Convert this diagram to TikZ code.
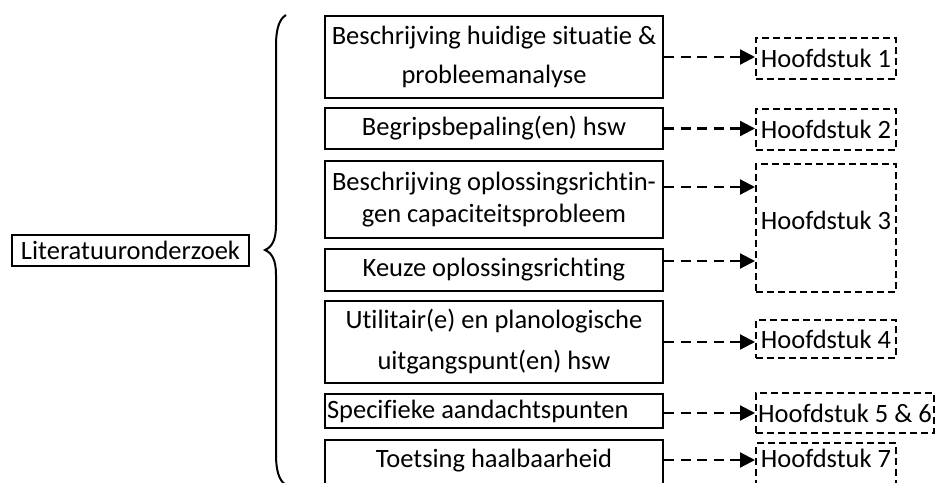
\documentclass[tikz,border=0pt]{standalone}
\usepackage{fontspec}
\setmainfont{Carlito}[Ligatures={NoCommon}]
\usetikzlibrary{arrows.meta,calc}
\newcommand\fs{\fontsize{26.5}{32}\selectfont}
\tikzset{
  solidbox/.style={draw, line width=2pt, minimum width=338pt, inner sep=0pt, align=center, font=\fs},
  hbox/.style={draw, line width=2pt, dash pattern=on 7pt off 4pt, minimum width=140pt, inner sep=0pt, align=center, font=\fs},
  arr/.style={line width=2.2pt, dash pattern=on 10pt off 6.5pt, -{Triangle[length=15pt,width=15pt]}},
  brace/.style={line width=2pt}
}
\begin{document}
\begin{tikzpicture}[x=1pt,y=-1pt]
\useasboundingbox (0,0) rectangle (939,482);
\clip (0,0) rectangle (939,482);
% left box
\node[draw, line width=1.2pt, minimum width=237pt, minimum height=31pt, inner sep=0pt, font=\fs] (lit) at (130.5,250.5) {Literatuuronderzoek};
% brace
\draw[brace] (286,15) .. controls (279,19) and (276,30) .. (276,45) -- (276,225)
  .. controls (276,240) and (272,247) .. (265,250)
  .. controls (272,253) and (276,260) .. (276,275) -- (276,455)
  .. controls (276,470) and (279,481) .. (286,485);
% solid boxes
\node[solidbox, minimum height=82pt] (b1) at (494,57) {Beschrijving huidige situatie \&\\[7pt]probleemanalyse};
\node[solidbox, minimum height=41pt] (b2) at (494,128.5) {Begripsbepaling(en) hsw};
\node[solidbox, minimum height=77pt] (b3) at (494,199.5) {Beschrijving oplossingsrichtin-\\gen capaciteitsprobleem};
\node[solidbox, minimum height=42pt] (b4) at (494,270) {Keuze oplossingsrichting};
\node[solidbox, minimum height=82pt] (b5) at (494,342) {Utilitair(e) en planologische\\[9pt]uitgangspunt(en) hsw};
\node[solidbox, minimum height=34pt, text width=334pt, align=flush left, inner xsep=2pt] (b6) at (494,411) {Specifieke aandachtspunten};
\node[solidbox, anchor=north, text height=27pt, text depth=24pt] (b7) at (494,439) {Toetsing haalbaarheid};
% dashed boxes
\node[hbox, minimum height=41pt] (h1) at (826,58.5) {Hoofdstuk 1};
\node[hbox, minimum height=41pt] (h2) at (826,129.5) {Hoofdstuk 2};
\node[hbox, anchor=north, text height=65.5pt, text depth=62.5pt] (h3) at (826,163) {Hoofdstuk 3};
\node[hbox, minimum height=38pt] (h4) at (826,339) {Hoofdstuk 4};
\node[hbox, minimum width=178pt, minimum height=40pt] (h56) at (845,413) {Hoofdstuk 5 \& 6};
\node[hbox, anchor=north, text height=24.5pt, text depth=22pt] (h7) at (826,442) {Hoofdstuk 7};
% arrows
\draw[arr] (b1.east) -- (b1.east -| h1.west);
\draw[arr] (b2.east) -- (b2.east -| h2.west);
\draw[arr] ($(b3.east)+(0,-12.5)$) coordinate (a3) -- (a3 -| h3.west);
\draw[arr] ($(b4.east)+(0,-9)$) coordinate (a4) -- (a4 -| h3.west);
\draw[arr] (b5.east) -- (b5.east -| h4.west);
\draw[arr] ($(b6.east)+(0,2)$) coordinate (a6) -- (a6 -| h56.west);
\draw[arr] ($(b7.north east)+(0,21)$) coordinate (a7) -- (a7 -| h7.west);
\end{tikzpicture}
\end{document}
